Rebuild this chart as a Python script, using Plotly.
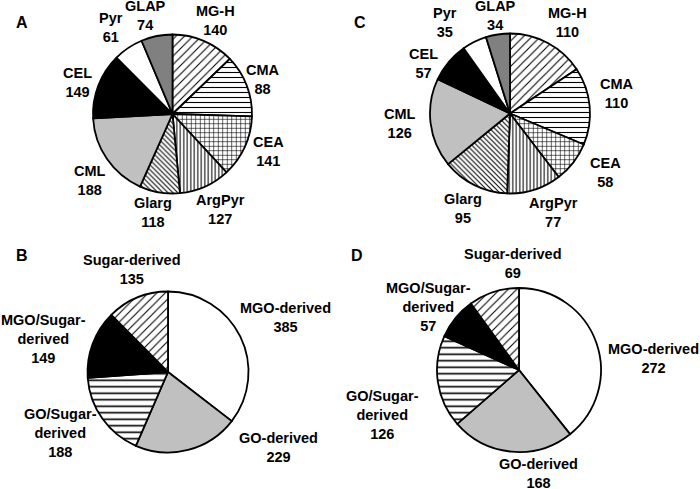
import plotly.graph_objects as go

W, H = 700, 489

# ---------------- data ----------------
ac_labels = ["MG-H", "CMA", "CEA", "ArgPyr", "Glarg", "CML", "CEL", "Pyr", "GLAP"]
a_counts = [140, 88, 141, 127, 118, 188, 149, 61, 74]
# slice sizes as drawn in panel A (degrees)
a_slices = [46.2, 45.5, 45.5, 37.4, 29.5, 62.7, 48.4, 21.9, 22.9]
c_counts = [110, 110, 58, 77, 95, 126, 57, 35, 34]

bd_labels = ["MGO-derived", "GO-derived", "GO/Sugar-derived", "MGO/Sugar-derived", "Sugar-derived"]
b_counts = [385, 229, 188, 149, 135]
d_counts = [272, 168, 126, 57, 69]

panel_letters = ["A", "B", "C", "D"]

# ---------------- styles ----------------
ac_shapes = ["/", "-", "+", "|", "\\", "", "", "", ""]
ac_colors = ["white", "white", "white", "white", "white", "#c0c0c0", "black", "white", "#808080"]
ac_sizes = [6, 5, 4.5, 3.5, 3.5, 6, 6, 6, 6]
ac_solid = [0.18, 0.22, 0.25, 0.3, 0.3, 0.2, 0.2, 0.2, 0.2]

bd_shapes = ["", "", "-", "", "/"]
bd_colors = ["white", "#c0c0c0", "white", "black", "white"]
bd_sizes = [6, 6, 6.5, 6, 6]
bd_solid = [0.2, 0.2, 0.25, 0.2, 0.18]

FONT = "Liberation Sans, Arial, sans-serif"

# pie geometry in pixels: (cx, cy, r)
geom = {
    "A": (172.5, 114, 79.5),
    "C": (510, 113.5, 80),
    "B": (168, 372, 80.5),
    "D": (519, 370, 82),
}


def domain(cx, cy, r):
    return dict(x=[(cx - r) / W, (cx + r) / W], y=[1 - (cy + r) / H, 1 - (cy - r) / H])


def pie(values, labels, shapes, colors, sizes, solid, g):
    return go.Pie(
        values=values,
        labels=labels,
        sort=False,
        direction="clockwise",
        rotation=0,
        textinfo="none",
        hoverinfo="label+value",
        showlegend=False,
        domain=domain(*g),
        marker=dict(
            colors=colors,
            line=dict(color="black", width=1.8),
            pattern=dict(shape=shapes, fgcolor="black", bgcolor="white",
                         size=sizes, solidity=solid, fillmode="replace"),
        ),
    )


fig = go.Figure()
fig.add_trace(pie(a_slices, ac_labels, ac_shapes, ac_colors, ac_sizes, ac_solid, geom["A"]))
fig.add_trace(pie(c_counts, ac_labels, ac_shapes, ac_colors, ac_sizes, ac_solid, geom["C"]))
fig.add_trace(pie(b_counts, bd_labels, bd_shapes, bd_colors, bd_sizes, bd_solid, geom["B"]))
fig.add_trace(pie(d_counts, bd_labels, bd_shapes, bd_colors, bd_sizes, bd_solid, geom["D"]))

# label positions (pixel centers of the text blocks)
a_pos = [(215, 21), (263, 80), (268, 151), (220, 209), (153, 213), (90, 180), (77, 82), (111, 27), (145, 15)]
c_pos = [(567, 22), (617, 93), (605, 172), (553, 213), (463, 208), (400, 124), (423, 63), (445, 22), (495, 16)]
b_pos = [(285, 317), (278, 447), (60, 433), (43, 339), (132, 269)]
d_pos = [(653, 358), (538, 473), (382, 415), (428, 307), (513, 263)]


def fmt(label):
    return label.replace("/Sugar-", "/Sugar-<br>")


annotations = []


def add_labels(labels, counts, pos):
    for lab, n, (x, y) in zip(labels, counts, pos):
        annotations.append(dict(
            x=x / W, y=1 - y / H, xref="paper", yref="paper",
            text="<b>" + fmt(lab) + "<br>" + str(n) + "</b>",
            showarrow=False, xanchor="center", yanchor="middle",
            font=dict(family=FONT, size=14.5, color="black"), align="center",
        ))


add_labels(ac_labels, a_counts, a_pos)
add_labels(ac_labels, c_counts, c_pos)
add_labels(bd_labels, b_counts, b_pos)
add_labels(bd_labels, d_counts, d_pos)

letter_pos = {"A": (22, 23), "B": (22, 255), "C": (360, 23), "D": (357, 255)}
for L in panel_letters:
    x, y = letter_pos[L]
    annotations.append(dict(
        x=x / W, y=1 - y / H, xref="paper", yref="paper",
        text="<b>" + L + "</b>", showarrow=False, xanchor="center", yanchor="middle",
        font=dict(family=FONT, size=16, color="black"),
    ))

fig.update_layout(
    width=W, height=H,
    margin=dict(l=0, r=0, t=0, b=0),
    paper_bgcolor="white", plot_bgcolor="white",
    annotations=annotations,
)

fig.write_html(
    "out.html",
    config={"displayModeBar": False},
    post_script="document.body.style.margin='0';document.body.style.overflow='hidden';",
)
